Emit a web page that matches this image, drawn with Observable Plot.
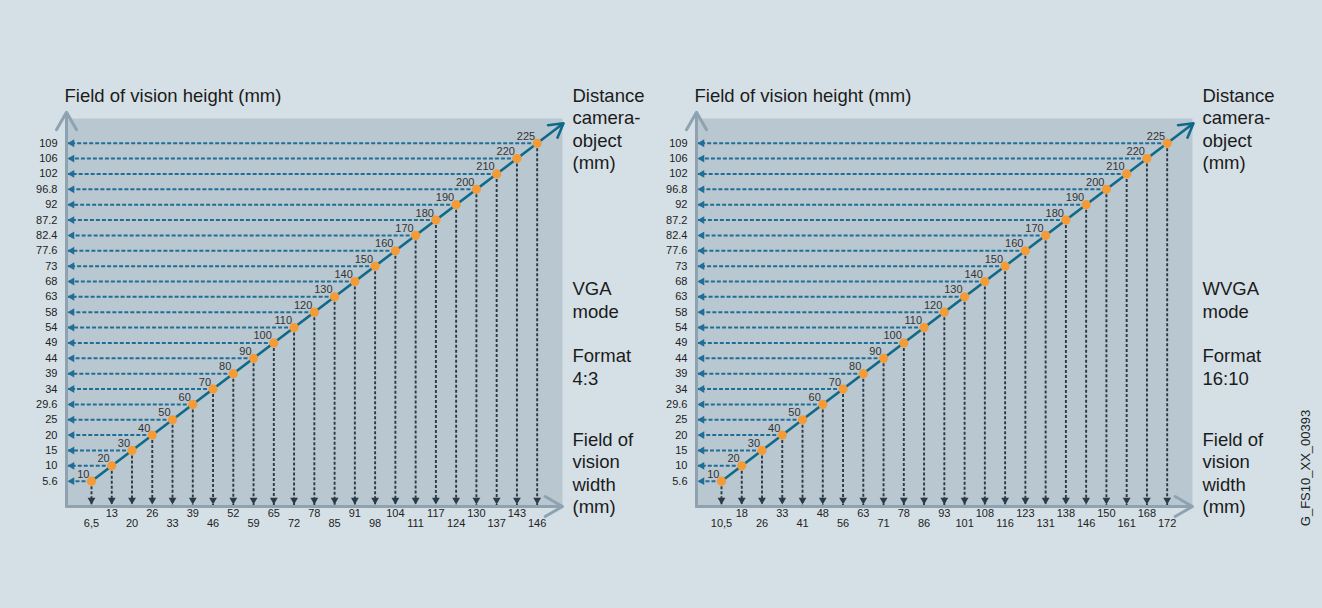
<!DOCTYPE html>
<html>
<head>
<meta charset="utf-8">
<script src="https://cdn.jsdelivr.net/npm/d3@7"></script>
<script src="https://cdn.jsdelivr.net/npm/@observablehq/plot@0.6"></script>
<style>
html, body { margin: 0; padding: 0; background: #d5e0e6; }
#wrap { position: relative; width: 1322px; height: 608px; overflow: hidden; background: #d5e0e6; font-family: "Liberation Sans", Arial, sans-serif; }
#left, #right { position: absolute; top: 0; width: 630px; height: 608px; }
#left { left: 0; }
#right { left: 630px; }
#code { position: absolute; left: 1305px; top: 468px; transform: translate(-50%, -50%) rotate(-90deg); font-size: 13px; color: #222; white-space: nowrap; }
</style>
</head>
<body>
<div id="wrap">
  <div id="left"></div>
  <div id="right"></div>
  <div id="code">G_FS10_XX_00393</div>
</div>
<script>
// Distance camera-object (mm), one per orange point
const distances = [10, 20, 30, 40, 50, 60, 70, 80, 90, 100, 110, 120, 130, 140, 150, 160, 170, 180, 190, 200, 210, 220, 225];
// Field of vision height (mm) — left axis labels
const heights = ["5.6", "10", "15", "20", "25", "29.6", "34", "39", "44", "49", "54", "58", "63", "68", "73", "77.6", "82.4", "87.2", "92", "96.8", "102", "106", "109"];
// Field of vision width (mm) — VGA mode, format 4:3
const widthsVGA = ["6,5", "13", "20", "26", "33", "39", "46", "52", "59", "65", "72", "78", "85", "91", "98", "104", "111", "117", "124", "130", "137", "143", "146"];
// Field of vision width (mm) — WVGA mode, format 16:10
const widthsWVGA = ["10,5", "18", "26", "33", "41", "48", "56", "63", "71", "78", "86", "93", "101", "108", "116", "123", "131", "138", "146", "150", "161", "168", "172"];
// Panel texts
const heightTitle = "Field of vision height (mm)";
const distanceTitle = "Distance\ncamera-\nobject\n(mm)";
const widthTitle = "Field of\nvision\nwidth\n(mm)";
const modes = ["VGA\nmode", "WVGA\nmode"];
const formats = ["Format\n4:3", "Format\n16:10"];

const FONT = "'Liberation Sans', Arial, Helvetica, sans-serif";

function panel(widths, mode, format) {
  const idx = d3.range(distances.length);
  const last = idx.length - 1;
  const X0 = -1.234, X1 = last + 1.25;
  const Y0 = -1.647, Y1 = last + 1.61;
  const pts = idx.map(i => ({i, d: String(distances[i]), h: heights[i], w: widths[i]}));
  const big = {fontSize: 18.5, fill: "#1b1b1b", lineAnchor: "top", lineHeight: 1.216, text: d => d};
  return Plot.plot({
    width: 630, height: 608,
    marginLeft: 66, marginRight: 68, marginTop: 118, marginBottom: 102,
    x: {domain: [X0, X1], axis: null},
    y: {domain: [Y0, Y1], axis: null},
    style: {background: "transparent", fontFamily: FONT, overflow: "visible"},
    marks: [
      Plot.frame({fill: "#b9c7d1", stroke: null}),
      // horizontal dashed arrows to the height axis
      Plot.link(pts, {x1: "i", y1: "i", x2: X0, y2: "i", stroke: "#1f6e97", strokeWidth: 2, strokeDasharray: "4,2"}),
      Plot.dot(pts, {x: X0, y: "i", dx: 5.5, symbol: "triangle", r: 2.9, rotate: -90, fill: "#1f6e97", stroke: null}),
      // vertical dashed arrows to the width axis
      Plot.link(pts, {x1: "i", y1: "i", x2: "i", y2: Y0, stroke: "#2a3b48", strokeWidth: 1.9, strokeDasharray: "3,2"}),
      Plot.dot(pts, {x: "i", y: Y0, dy: -6.5, symbol: "triangle", r: 2.9, rotate: 180, fill: "#2a3b48", stroke: null}),
      // axes
      Plot.arrow([0], {x1: X0, y1: Y0, x2: X0, y2: Y1 + 0.4, stroke: "#8fa2b0", strokeWidth: 3, headLength: 10}),
      Plot.arrow([0], {x1: X0, y1: Y0, x2: X1, y2: Y0, stroke: "#8fa2b0", strokeWidth: 3, headLength: 10}),
      // diagonal distance line
      Plot.arrow([0], {x1: 0, y1: 0, x2: last + 1.3, y2: last + 1.3, stroke: "#0f6a8a", strokeWidth: 2.6, headLength: 9}),
      Plot.dot(pts, {x: "i", y: "i", r: 4.6, fill: "#f59b36", stroke: null}),
      Plot.text(pts, {x: "i", y: "i", text: "d", textAnchor: "end", dx: -2, dy: -7, fontSize: 11, fill: "#333"}),
      // height labels
      Plot.text(pts, {y: "i", frameAnchor: "left", text: "h", textAnchor: "end", dx: -9, fontSize: 11, fill: "#222"}),
      // width labels (staggered)
      Plot.text(pts.filter(p => p.i % 2 === 1), {x: "i", frameAnchor: "bottom", text: "w", dy: 10, fontSize: 11, fill: "#222"}),
      Plot.text(pts.filter(p => p.i % 2 === 0), {x: "i", frameAnchor: "bottom", text: "w", dy: 20, fontSize: 11, fill: "#222"}),
      // titles
      Plot.text([heightTitle], {...big, frameAnchor: "top-left", textAnchor: "start", dx: -2, dy: -32.5}),
      Plot.text([distanceTitle], {...big, frameAnchor: "top-right", textAnchor: "start", dx: 10, dy: -32.5}),
      Plot.text([mode], {...big, frameAnchor: "top-right", textAnchor: "start", dx: 10, dy: 161}),
      Plot.text([format], {...big, frameAnchor: "top-right", textAnchor: "start", dx: 10, dy: 228}),
      Plot.text([widthTitle], {...big, frameAnchor: "top-right", textAnchor: "start", dx: 10, dy: 311.5})
    ]
  });
}

document.getElementById("left").appendChild(panel(widthsVGA, modes[0], formats[0]));
document.getElementById("right").appendChild(panel(widthsWVGA, modes[1], formats[1]));
</script>
</body>
</html>
